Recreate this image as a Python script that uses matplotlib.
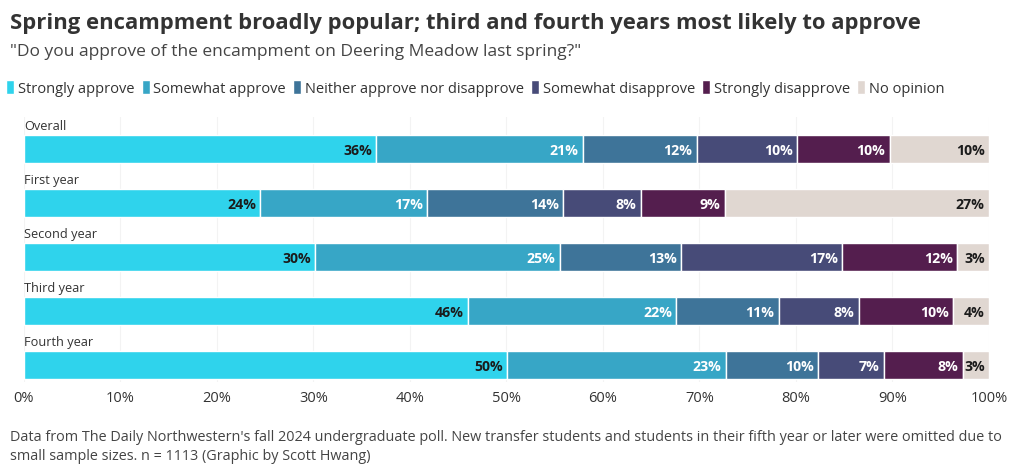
import matplotlib.pyplot as plt
import numpy as np

# survey shares (percent)
groups = ["Overall", "First year", "Second year", "Third year", "Fourth year"]
responses = ["Strongly approve", "Somewhat approve", "Neither approve nor disapprove",
             "Somewhat disapprove", "Strongly disapprove", "No opinion"]
strongly_approve = [36.5, 24.5, 30.2, 46.0, 50.1]
somewhat_approve = [21.4, 17.3, 25.3, 21.6, 22.6]
neither = [11.8, 14.1, 12.6, 10.6, 9.6]
somewhat_disapprove = [10.4, 8.0, 16.7, 8.3, 6.8]
strongly_disapprove = [9.6, 8.7, 11.9, 9.8, 8.2]
no_opinion = [10.3, 27.4, 3.3, 3.7, 2.7]

colors = ["#2fd3ec", "#37a6c6", "#3e7499", "#474b78", "#541e4e", "#e0d7d1"]
label_colors = ["#1b1b1b", "white", "white", "white", "white", "#1b1b1b"]

plt.rcParams["font.family"] = ["Open Sans", "DejaVu Sans"]

fig = plt.figure(figsize=(10.2, 4.77), dpi=100)
ax = fig.add_axes([24 / 1020, 1 - 383 / 477, 965 / 1020, (383 - 118) / 477])

series = [strongly_approve, somewhat_approve, neither,
          somewhat_disapprove, strongly_disapprove, no_opinion]
y = np.arange(len(groups))
h = 28 / 54
left = np.zeros(len(groups))
for vals, col, lc, name in zip(series, colors, label_colors, responses):
    vals = np.array(vals)
    ax.barh(y, vals, left=left, height=h, color=col, edgecolor="white",
            linewidth=1, label=name, zorder=3)
    for yi, l, v in zip(y, left, vals):
        ax.text(l + v - 0.45, yi + 0.02, f"{v:.0f}%", ha="right", va="center",
                color=lc, fontsize=10.2, fontweight="bold", zorder=4)
    left += vals

for yi, g in zip(y, groups):
    ax.text(0, yi - h / 2 - 0.05, g, ha="left", va="bottom", fontsize=9.2,
            color="#333333")

ax.set_xlim(0, 100)
ax.set_ylim(4.315, -0.593)
ax.set_xticks(np.arange(0, 101, 10))
ax.set_xticklabels([f"{t}%" for t in range(0, 101, 10)], fontsize=10.5, color="#333333")
ax.set_yticks([])
ax.tick_params(axis="x", length=0, pad=6)
ax.grid(axis="x", color="#f3f3f3", linewidth=0.8, zorder=0)
for s in ax.spines.values():
    s.set_visible(False)

fig.text(10 / 1020, 1 - 24 / 477, "Spring encampment broadly popular; third and fourth years most likely to approve",
         fontsize=15.8, fontweight="bold", color="#333333", va="center")
fig.text(10 / 1020, 1 - 52 / 477, "\"Do you approve of the encampment on Deering Meadow last spring?\"",
         fontsize=12.5, color="#444444", va="center")

fig.legend(loc="center left", bbox_to_anchor=(0.006, 1 - 89 / 477), ncol=6, frameon=False,
           handlelength=0.55, handleheight=1.1, handletextpad=0.25, columnspacing=0.5,
           fontsize=10.5, labelcolor="#333333", borderaxespad=0, borderpad=0)

fig.text(10 / 1020, 1 - 438 / 477,
         "Data from The Daily Northwestern's fall 2024 undergraduate poll. New transfer students and students in their fifth year or later were omitted due to",
         fontsize=10.4, color="#444444", va="center")
fig.text(10 / 1020, 1 - 457 / 477, "small sample sizes. n = 1113 (Graphic by Scott Hwang)",
         fontsize=10.4, color="#444444", va="center")

fig.savefig("out.png", dpi=100, facecolor="white")
